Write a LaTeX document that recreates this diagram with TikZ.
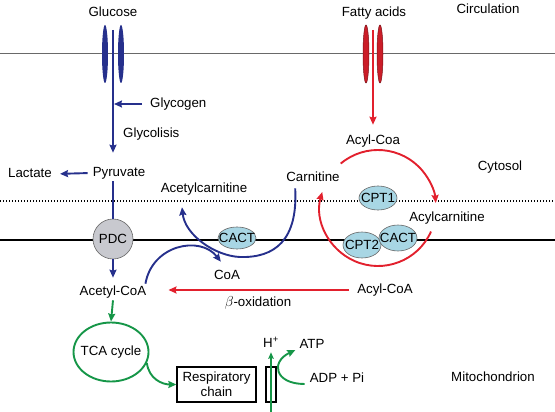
\documentclass[tikz,border=0pt]{standalone}
\usepackage{fontspec}
\setmainfont{Liberation Sans}
\usetikzlibrary{arrows.meta,shapes.geometric}
\definecolor{pblue}{RGB}{38,48,140}
\definecolor{pred}{RGB}{226,32,45}
\definecolor{pgreen}{RGB}{22,150,72}
\definecolor{enzfill}{RGB}{168,214,228}
\definecolor{pdcfill}{RGB}{200,201,207}
\definecolor{memgray}{RGB}{105,105,105}
\newcommand{\zw}[1]{\makebox[0pt]{#1}}
\begin{document}
\begin{tikzpicture}[x=1pt,y=-1pt,
  every node/.style={font=\fontsize{13.3}{15}\selectfont},
  txt/.style={inner sep=2pt, text height=9.6pt, text depth=2.6pt},
  tip/.style={-{Stealth[length=8pt,width=7pt,inset=1pt]}},
  smalltip/.style={-{Stealth[length=6.5pt,width=5.5pt,inset=1pt]}},
  bluel/.style={draw=pblue, line width=1.9pt},
  redl/.style={draw=pred, line width=1.9pt},
  greenl/.style={draw=pgreen, line width=1.9pt},
  enzyme/.style={ellipse, draw=black!60, line width=0.6pt, fill=enzfill, inner sep=0pt, minimum width=38pt, minimum height=24pt},
  porter/.style={ellipse, inner sep=0pt, minimum width=6pt, minimum height=58pt},
  boxed/.style={draw, line width=1.3pt, inner sep=0pt},
]
\useasboundingbox (0,0) rectangle (555,412);

% membranes
\draw[memgray, line width=0.8pt] (0,53) -- (555,53);
\draw[line width=1.4pt, dash pattern=on 1.4pt off 1.6pt] (0,201) -- (555,201);
\draw[line width=1.5pt] (0,240) -- (555,240);

% labels of compartments
\node[txt] (circ) at (488,10) {Circulation};
\node[txt] (cytosol) at (500,167) {Cytosol};
\node[txt] (mito) at (493,378) {Mitochondrion};

% glucose side
\node[txt] (glucose) at (113,13.5) {Glucose};
\node[porter, fill=pblue] (glut1) at (105,54) {};
\node[porter, fill=pblue] (glut2) at (121,54) {};
\coordinate (gtop) at (113,30);
\node[txt, anchor=west] (glycogen) at (148,104) {Glycogen};
\node[txt, anchor=west] (glycolisis) at (121,134) {Glycolisis};
\node[txt] (pyr) at (119,173) {Pyruvate};
\node[txt] (lact) at (30,174) {Lactate};
\node[circle, draw=black!60, fill=pdcfill, minimum size=40pt, inner sep=0pt, line width=0.6pt] (pdc) at (113,239) {PDC};
\node[txt] (acetylcoa) at (113,292) {Acetyl-CoA};

\draw[bluel,tip,shorten >=12pt] (gtop) -- (gtop |- pyr.north);
\draw[bluel,tip,shorten <=6pt,shorten >=1pt] (glycogen.west) -- (glycogen.west -| gtop);
\draw[bluel,tip,shorten <=3pt,shorten >=6pt] (pyr.west) -- (lact.east);
\draw[bluel] (pyr.south -| pdc) -- (pdc.north);
\draw[bluel,tip,shorten >=6pt] (pdc.south) -- (acetylcoa.north);

% carnitine shuttle (blue)
\node[txt] (acetcarn) at (204,189) {Acetylcarnitine};
\node[txt] (carn) at (313,178) {Carnitine};
\node[txt] (coa) at (227,276) {CoA};
\node[enzyme, minimum height=22pt] (cact1) at (237,238) {\zw{CACT}};

\draw[bluel,tip] ([xshift=-3pt]acetylcoa.north east) .. controls (152,245) and (200,235) .. ([xshift=9pt,yshift=6pt]coa.north west);
\draw[bluel,tip] ([xshift=11pt,yshift=-2pt]carn.south west) .. controls (298,240) and (275,258) .. (240,257)
   .. controls (215,256) and (185,235) .. ([xshift=-22pt,yshift=-10pt]acetcarn.south);

% fatty acids (red)
\node[txt] (fatty) at (374,13) {Fatty acids};
\node[porter, fill=pred!90!black, draw=pred!55!black, line width=0.5pt] (fat1) at (366,54) {};
\node[porter, fill=pred!90!black, draw=pred!55!black, line width=0.5pt] (fat2) at (380,54) {};
\coordinate (ftop) at (373,30);
\node[txt] (acylcoa1) at (373,141) {Acyl-Coa};
\draw[redl,tip,shorten >=8pt] (ftop) -- (ftop |- acylcoa1.north);

\coordinate (cyc) at (378,208);
\draw[redl,tip] (cyc) ++(-130:58) arc[start angle=-130, end angle=-5, radius=58];
\draw[redl,tip] (cyc) ++(24:58) arc[start angle=24, end angle=196, radius=58];

\node[enzyme] (cpt1) at (378,198) {\zw{CPT1}};
\node[enzyme, minimum height=26pt] (cpt2) at (362,245) {\zw{CPT2}};
\node[enzyme, minimum height=26pt] (cact2) at (398,238) {\zw{CACT}};
\node[txt] (acylcarn) at (447,218) {Acylcarnitine};

\node[txt] (acylcoa2) at (385,290) {Acyl-CoA};
\node[txt] (beta) at (258,303) {$\beta$-oxidation};
\draw[redl,tip,shorten <=6pt,shorten >=20pt] (acylcoa2.west) -- (acylcoa2.west -| acetylcoa.east);

% mitochondrial energy (green)
\node[ellipse, draw=pgreen, line width=1.9pt, minimum width=75pt, minimum height=59pt, inner sep=0pt] (tca) at (111,352) {\zw{TCA cycle}};
\node[boxed, minimum width=79pt, minimum height=35pt, align=center] (resp) at (216.5,384.5) {Respiratory\\chain};
\node[boxed, minimum width=10pt, minimum height=35pt] (synth) at (271,384.5) {};
\node[txt] (hplus) at (271,344) {H\textsuperscript{+}};
\node[txt] (atp) at (312,345) {ATP};
\node[txt] (adp) at (337,379) {ADP + Pi};
\coordinate (hbot) at (271,412);

\draw[greenl,tip] (acetylcoa.south) -- (tca.north);
\draw[greenl,tip] (tca.-17) .. controls +(2,16) and +(-14,0) .. (resp.west);
\draw[draw=pgreen, line width=1.2pt, smalltip] (hbot) -- (hplus.south);
\draw[greenl,tip] ([xshift=-3pt,yshift=-5pt]adp.west) .. controls +(-30,0) and +(-25,12) .. ([xshift=-2pt,yshift=-5pt]atp.west);
\end{tikzpicture}
\end{document}
